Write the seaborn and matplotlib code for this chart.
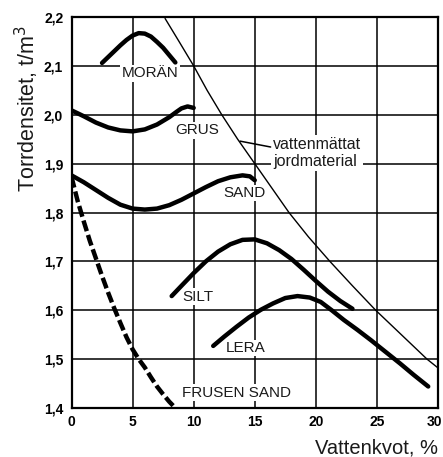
import matplotlib
matplotlib.use("Agg")
import matplotlib.pyplot as plt
import matplotlib.transforms as mtransforms
import seaborn as sns

# Dry density (t/m3) against water content (%) for different soils
moran_x = [2.5, 3.0, 3.5, 4.0, 4.5, 5.0, 5.5, 6.0, 6.5, 7.0, 7.5, 8.0, 8.5]
moran_y = [2.106, 2.118, 2.130, 2.142, 2.153, 2.162, 2.167, 2.166, 2.160,
           2.149, 2.137, 2.122, 2.107]

grus_x = [0.0, 1.0, 2.0, 3.0, 4.0, 5.0, 6.0, 7.0, 8.0, 8.6, 9.0, 9.5, 10.0]
grus_y = [2.009, 1.997, 1.984, 1.974, 1.968, 1.966, 1.970, 1.980, 1.995,
          2.006, 2.013, 2.017, 2.014]

sand_x = [0.0, 1.0, 2.0, 3.0, 4.0, 5.0, 6.0, 7.0, 8.0, 9.0, 10.0, 11.0,
          12.0, 13.0, 14.0, 14.6, 15.0]
sand_y = [1.876, 1.862, 1.846, 1.830, 1.816, 1.808, 1.806, 1.808, 1.815,
          1.826, 1.839, 1.852, 1.864, 1.872, 1.876, 1.874, 1.866]

silt_x = [8.2, 9.0, 10.0, 11.0, 12.0, 13.0, 14.0, 15.0, 16.0, 17.0, 18.0,
          19.0, 20.0, 21.0, 22.0, 23.0]
silt_y = [1.629, 1.650, 1.676, 1.700, 1.720, 1.735, 1.744, 1.745, 1.737,
          1.723, 1.705, 1.683, 1.660, 1.638, 1.619, 1.603]

lera_x = [11.6, 12.5, 13.5, 14.5, 15.5, 16.5, 17.5, 18.5, 19.5, 20.4, 21.3,
          22.3, 23.4, 24.5, 25.7, 26.9, 28.0, 29.2]
lera_y = [1.527, 1.546, 1.566, 1.585, 1.601, 1.614, 1.625, 1.629, 1.626,
          1.617, 1.600, 1.580, 1.560, 1.539, 1.515, 1.491, 1.468, 1.444]

frusen_x = [0.0, 0.5, 1.0, 1.5, 2.0, 2.5, 3.0, 3.5, 4.0, 4.5, 5.0, 5.5,
            6.0, 6.5, 7.0, 7.5, 8.0, 8.5]
frusen_y = [1.873, 1.824, 1.782, 1.742, 1.706, 1.670, 1.636, 1.604, 1.574,
            1.545, 1.520, 1.500, 1.483, 1.463, 1.444, 1.428, 1.413, 1.400]

# Saturated soil line
mattat_x = [7.66, 8.8, 10.0, 11.1, 12.3, 13.6, 15.0, 16.4, 17.8, 19.4,
            21.15, 23.0, 24.9, 27.0, 29.1, 30.0]
mattat_y = [2.197, 2.150, 2.100, 2.050, 2.000, 1.950, 1.900, 1.850, 1.800,
            1.750, 1.700, 1.650, 1.600, 1.550, 1.500, 1.482]

x_ticks = [0, 5, 10, 15, 20, 25, 30]
y_ticks = [1.4, 1.5, 1.6, 1.7, 1.8, 1.9, 2.0, 2.1, 2.2]
y_ticklabels = ["1,4", "1,5", "1,6", "1,7", "1,8", "1,9", "2,0", "2,1", "2,2"]

curve_labels = ["MORÄN", "GRUS", "SAND", "SILT", "LERA", "FRUSEN SAND"]
label_x = [6.43, 10.29, 14.19, 10.37, 14.26, 13.48]
label_y = [2.085, 1.968, 1.840, 1.628, 1.523, 1.431]

sns.set_theme(style="white")
plt.rcParams["font.family"] = ["Liberation Sans", "DejaVu Sans"]

fig = plt.figure(figsize=(4.43, 4.57), dpi=100)
ax = fig.add_axes([71.5 / 443, 1 - 408 / 457, (438 - 71.5) / 443, (408 - 17) / 457])

curves = [
    (moran_x, moran_y),
    (grus_x, grus_y),
    (sand_x, sand_y),
    (silt_x, silt_y),
    (lera_x, lera_y),
]
for cx, cy in curves:
    sns.lineplot(x=cx, y=cy, ax=ax, color="black", lw=3.2,
                 solid_capstyle="round", solid_joinstyle="round", zorder=4)

sns.lineplot(x=frusen_x, y=frusen_y, ax=ax, color="black", lw=3.2,
             linestyle=(0, (2.5, 0.9)), dash_capstyle="butt", zorder=4)

sns.lineplot(x=mattat_x, y=mattat_y, ax=ax, color="black", lw=1.0, zorder=4)

ax.set_xlim(0, 30)
ax.set_ylim(1.4, 2.2)
ax.set_xticks(x_ticks)
ax.set_yticks(y_ticks)
ax.set_xticklabels([str(t) for t in x_ticks], fontsize=10, fontweight="bold")
ax.set_yticklabels(y_ticklabels, fontsize=10, fontweight="bold")
ax.tick_params(axis="both", length=0, colors="black")
ax.tick_params(axis="y", pad=6)
ax.tick_params(axis="x", pad=5)
# keep the last x tick label inside the figure
last = ax.get_xticklabels()[-1]
last.set_transform(last.get_transform() +
                   mtransforms.ScaledTranslation(-4 / 100, 0, fig.dpi_scale_trans))
ax.grid(True, color="black", lw=1.1, zorder=0.5)
ax.set_axisbelow(True)
for sp in ax.spines.values():
    sp.set_visible(True)
    sp.set_color("black")
    sp.set_linewidth(1.6)
ax.set_xlabel("")
ax.set_ylabel("")

box = dict(facecolor="white", edgecolor="none", pad=1.0)
for name, lx, ly in zip(curve_labels, label_x, label_y):
    ax.text(lx, ly, name, ha="center", va="center", fontsize=11,
            color="#1a1a1a", bbox=box, zorder=3)

ax.text(16.5, 1.921, "vattenmättat\njordmaterial", ha="left", va="center",
        fontsize=11.5, color="#1a1a1a", linespacing=1.15,
        bbox=dict(facecolor="white", edgecolor="none", pad=1.5), zorder=3)
ax.plot([13.8, 16.3], [1.946, 1.934], color="black", lw=1.1, zorder=4)

fig.text(438 / 443, 1 - 448 / 457, "Vattenkvot, %", ha="right", va="center",
         fontsize=14.5, color="#1a1a1a")
fig.text(27 / 443, 1 - 25 / 457, "Torrdensitet, t/m$^3$", ha="center", va="top",
         rotation=90, fontsize=15.5, color="#1a1a1a")

fig.savefig("out.png", dpi=100, facecolor="white")
